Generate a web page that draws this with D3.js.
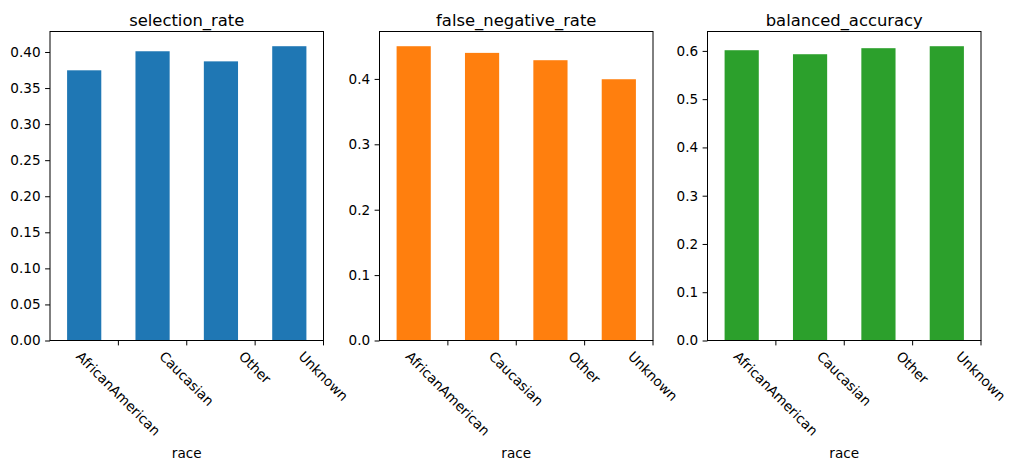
<!DOCTYPE html>
<html>
<head>
<meta charset="utf-8">
<style>
  body { margin: 0; background: #fff; }
  svg { font-family: "DejaVu Sans", sans-serif; }
  .domain, .tick line { stroke: #000; stroke-width: 1; }
</style>
</head>
<body>
<script src="https://d3js.org/d3.v7.min.js"></script>
<script>
const races = ["AfricanAmerican", "Caucasian", "Other", "Unknown"];
const selectionRate = [0.3746, 0.401, 0.387, 0.408];
const falseNegativeRate = [0.450, 0.4398, 0.4286, 0.3995];
const balancedAccuracy = [0.6014, 0.5931, 0.6056, 0.6097];

const panels = [
  {title: "selection_rate", values: selectionRate, color: "#1f77b4", ticks: [0, 0.05, 0.1, 0.15, 0.2, 0.25, 0.3, 0.35, 0.4], fmt: ".2f"},
  {title: "false_negative_rate", values: falseNegativeRate, color: "#ff7f0e", ticks: [0, 0.1, 0.2, 0.3, 0.4], fmt: ".1f"},
  {title: "balanced_accuracy", values: balancedAccuracy, color: "#2ca02c", ticks: [0, 0.1, 0.2, 0.3, 0.4, 0.5, 0.6], fmt: ".1f"}
];

const width = 1018, height = 470;
const lefts = [50, 379.5, 707.5];
const axW = 273.5;
const axTop = 31.5, axBottom = 340.5;
const tickFont = 13.6, titleFont = 16.4;

const svg = d3.select("body").append("svg")
  .attr("width", width).attr("height", height);

panels.forEach((p, k) => {
  const g = svg.append("g").attr("transform", `translate(${lefts[k]},0)`);

  const x = d3.scaleBand().domain(races).range([0, axW])
    .paddingInner(0.5).paddingOuter(0.25);
  const y = d3.scaleLinear().domain([0, d3.max(p.values) * 1.05]).range([axBottom, axTop]);

  g.selectAll("rect.bar").data(p.values).enter().append("rect")
    .attr("class", "bar")
    .attr("x", (d, i) => x(races[i]))
    .attr("y", d => y(d))
    .attr("width", x.bandwidth())
    .attr("height", d => y(0) - y(d))
    .attr("fill", p.color);

  // y axis
  const ya = g.append("g")
    .call(d3.axisLeft(y).tickValues(p.ticks).tickFormat(d3.format(p.fmt)).tickSize(4.9).tickPadding(4.5));
  ya.selectAll("text").attr("font-size", tickFont).attr("fill", "#000").attr("font-family", "DejaVu Sans");
  ya.select(".domain").remove();

  // x axis, ticks sit half a step to the right of each bar
  const xa = g.append("g").attr("transform", `translate(0,${axBottom})`)
    .call(d3.axisBottom(x).tickSize(4.9).tickFormat(""));
  xa.select(".domain").remove();
  xa.selectAll(".tick").attr("transform", d => `translate(${x(d) + x.bandwidth() / 2 + x.step() / 2},0)`);

  // rotated labels, -45 deg, box centred on tick, top under tick
  xa.selectAll(".tick").each(function(d) {
    const t = d3.select(this).append("text")
      .attr("font-size", tickFont)
      .attr("font-family", "DejaVu Sans")
      .attr("fill", "#000")
      .attr("text-anchor", "middle")
      .attr("dominant-baseline", "central")
      .text(d);
    const w = t.node().getComputedTextLength();
    const h = tickFont * 1.0;
    const box = (w + h) / Math.SQRT2;
    t.attr("transform", `translate(0,${4.9 + 3.5 + box / 2}) rotate(45)`);
  });

  // frame
  g.append("rect")
    .attr("x", 0).attr("y", axTop)
    .attr("width", axW).attr("height", axBottom - axTop)
    .attr("fill", "none").attr("stroke", "#000").attr("stroke-width", 1);

  g.append("text")
    .attr("x", axW / 2).attr("y", axTop - 6)
    .attr("text-anchor", "middle")
    .attr("font-size", titleFont)
    .attr("fill", "#000")
    .text(p.title);

  g.append("text")
    .attr("x", axW / 2).attr("y", 458)
    .attr("text-anchor", "middle")
    .attr("font-size", tickFont)
    .attr("fill", "#000")
    .text("race");
});
</script>
</body>
</html>
